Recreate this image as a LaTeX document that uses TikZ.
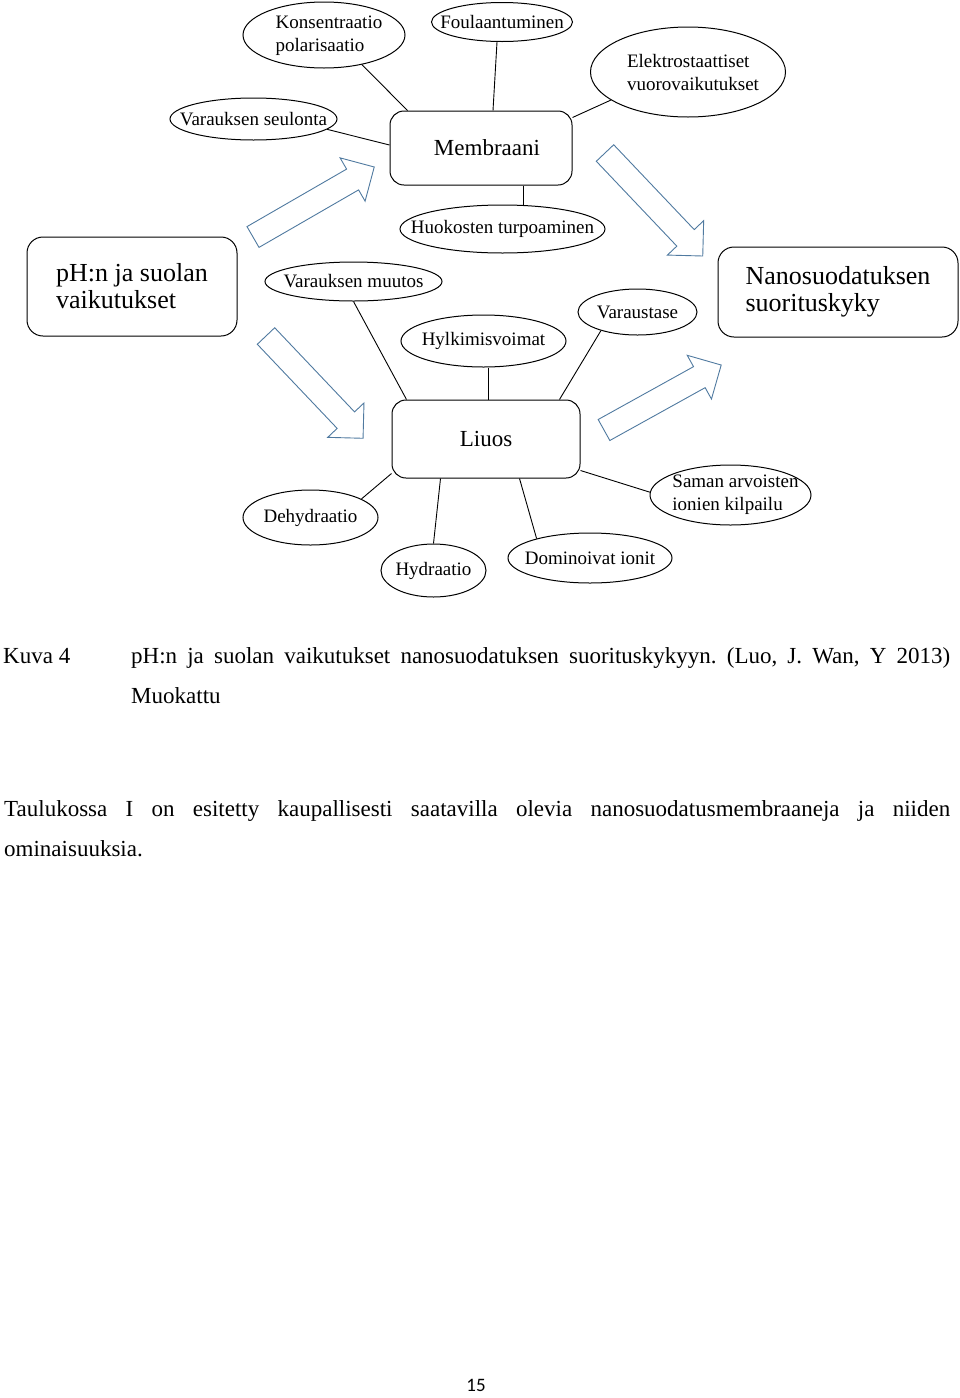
\documentclass[tikz,border=0pt]{standalone}
\usepackage{fontspec}
\setmainfont{Liberation Serif}
\newfontfamily\pagenumfont{Carlito}
\definecolor{arrowblue}{RGB}{80,122,160}
\usetikzlibrary{shapes.geometric}
\hyphenpenalty=10000
\exhyphenpenalty=10000
\frenchspacing

\begin{document}
\begin{tikzpicture}[x=1pt,y=-1pt,
  ell/.style={draw,ellipse,inner sep=0pt,line width=1pt},
  lbl/.style={font=\fontsize{19}{23}\selectfont,align=left,inner sep=0pt},
  box/.style={draw,rounded corners=14pt,inner sep=0pt,line width=1pt,
    font=\fontsize{23}{27}\selectfont},
  bigbox/.style={draw,rounded corners=16pt,inner sep=0pt,line width=1pt,
    align=left,font=\fontsize{26}{27}\selectfont},
  lnk/.style={line width=0.9pt},
  barrow/.style={draw=arrowblue,line width=0.9pt,fill=white},
  txt/.style={font=\fontsize{23}{40}\selectfont,inner sep=0pt}
]
  \useasboundingbox (0,0) rectangle (960,1398);

  % big arrows
  \foreach \tx/\ty/\ang/\len in {253/237/30/140, 605/153/-46.5/142, 266/336/-46.5/141, 604/430/29/134}
    \draw[barrow,shift={(\tx,\ty)},rotate=\ang] (0,-12) -- (\len-25,-12) -- (\len-25,-25)
      -- (\len,0) -- (\len-25,25) -- (\len-25,12) -- (0,12) -- cycle;

  % main boxes
  \node[bigbox,minimum width=210pt,minimum height=99pt] (phbox) at (132,286.5) {pH:n ja suolan\\vaikutukset};
  \node[bigbox,minimum width=240pt,minimum height=90pt] (nanobox) at (838,292) {Nanosuodatuksen\\suorituskyky};
  \node[box,minimum width=182pt,minimum height=74pt] (membraani) at (481,148) {\hspace*{12pt}Membraani};
  \node[box,minimum width=188pt,minimum height=78pt] (liuos) at (486,439) {Liuos};

  % membrane factors
  \node[ell,minimum width=162pt,minimum height=66pt,
    label={[lbl,xshift=5pt,yshift=-1pt]center:{Konsentraatio\\polarisaatio}}] (konsentraatio) at (324,35) {};
  \node[ell,minimum width=141pt,minimum height=39pt,
    label={[lbl]center:Foulaantuminen}] (foulaantuminen) at (502,22) {};
  \node[ell,minimum width=195pt,minimum height=90pt,
    label={[lbl,xshift=5pt]center:{Elektrostaattiset\\vuorovaikutukset}}] (elektro) at (688,72) {};
  \node[ell,minimum width=167pt,minimum height=42pt,
    label={[lbl]center:Varauksen seulonta}] (seulonta) at (253.5,119) {};
  \node[ell,minimum width=205pt,minimum height=48pt,
    label={[lbl]center:Huokosten turpoaminen}] (huokosten) at (502.5,229) {};

  % solution factors
  \node[ell,minimum width=177pt,minimum height=39pt,
    label={[lbl]center:Varauksen muutos}] (varmuutos) at (353.5,281.5) {};
  \node[ell,minimum width=165pt,minimum height=52pt,
    label={[lbl]center:Hylkimisvoimat}] (hylkimis) at (483.5,341) {};
  \node[ell,minimum width=119pt,minimum height=46pt,
    label={[lbl]center:Varaustase}] (varaustase) at (637.5,312) {};
  \node[ell,minimum width=135pt,minimum height=55pt,
    label={[lbl]center:Dehydraatio}] (dehydraatio) at (310.5,517.5) {};
  \node[ell,minimum width=105pt,minimum height=53pt,
    label={[lbl]center:Hydraatio}] (hydraatio) at (433.5,570.5) {};
  \node[ell,minimum width=164pt,minimum height=50pt,
    label={[lbl]center:Dominoivat ionit}] (dominoivat) at (590,558) {};
  \node[ell,minimum width=161pt,minimum height=60pt,
    label={[lbl,xshift=5pt]center:{Saman arvoisten\\ionien kilpailu}}] (saman) at (730.5,495) {};

  % links
  \draw[lnk] (konsentraatio.-38) -- ([xshift=18pt]membraani.north west);
  \draw[lnk] ([xshift=-5pt]foulaantuminen.south) -- ([xshift=12pt]membraani.north);
  \draw[lnk] (elektro.200) -- ([yshift=-7pt]membraani.north east);
  \draw[lnk] (seulonta.-8) -- ([yshift=3pt]membraani.west);
  \draw[lnk] ([xshift=42pt]membraani.south) -- ([xshift=42pt]membraani.south |- huokosten.north);
  \draw[lnk] (varmuutos.south) -- ([xshift=15pt]liuos.north west);
  \draw[lnk] ([xshift=5pt]hylkimis.south) -- ([xshift=5pt]hylkimis.south |- liuos.north);
  \draw[lnk] (varaustase.207) -- ([xshift=-21pt]liuos.north east);
  \draw[lnk] ([yshift=5pt]liuos.south west) -- (dehydraatio.20);
  \draw[lnk] ([xshift=49pt]liuos.south west) -- (hydraatio.north);
  \draw[lnk] ([xshift=-61pt]liuos.south east) -- (dominoivat.160);
  \draw[lnk] ([yshift=8pt]liuos.south east) -- (saman.178);

  % caption and text
  \node[txt,anchor=base west] (kuva) at (3,663) {Kuva 4};
  \node[txt,anchor=base west,text width=819pt,align=justify] (caption) at (131,663)
    {pH:n ja suolan vaikutukset nanosuodatuksen suorituskykyyn. (Luo, J. Wan, Y 2013)\linebreak Muokattu};
  \node[txt,anchor=base west,text width=946pt,align=justify] (taulukko) at (4,816)
    {Taulukossa I on esitetty kaupallisesti saatavilla olevia nanosuodatusmembraaneja ja niiden\linebreak ominaisuuksia.};
  \node[font=\pagenumfont\fontsize{19}{22}\selectfont,inner sep=0pt] (sivu) at (476,1385) {15};
\end{tikzpicture}
\end{document}
